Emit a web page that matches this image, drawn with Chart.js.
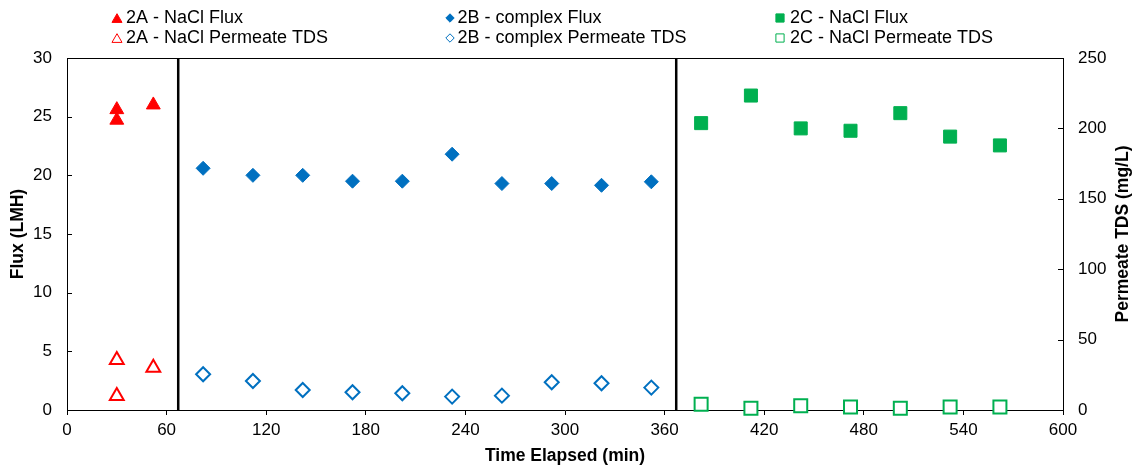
<!DOCTYPE html>
<html lang="en">
<head>
  <meta charset="UTF-8">
  <title>Flux and Permeate TDS</title>
  <script src="https://cdn.jsdelivr.net/npm/chart.js"></script>
  <style>
    html, body { margin: 0; padding: 0; background: #fff; overflow: hidden; }
    canvas { display: block; }
  </style>
</head>
<body>
  <canvas id="fluxChart" width="1135" height="469"></canvas>

  <script>
    // --- data ---
    const timeA = [30, 30, 52];
    const fluxA = [25.6, 24.7, 26.0];
    const tdsA = [35.5, 10.0, 30.0];

    const timeB = [82, 112, 142, 172, 202, 232, 262, 292, 322, 352];
    const fluxB = [20.6, 20.0, 20.0, 19.5, 19.5, 21.8, 19.3, 19.3, 19.15, 19.45];
    const tdsB = [25.4, 20.6, 14.2, 12.6, 11.9, 9.5, 10.2, 19.7, 19.0, 15.9];

    const timeC = [382, 412, 442, 472, 502, 532, 562];
    const fluxC = [24.45, 26.8, 24.0, 23.8, 25.3, 23.3, 22.55];
    const tdsC = [4.0, 1.2, 3.1, 2.1, 1.2, 2.1, 2.1];

    // phase changes (vertical lines), min
    const phaseBreaks = [67, 367];

    const RED = '#FF0000', BLUE = '#0070C0', GREEN = '#00B050';
    const FONT = "'Liberation Sans', Arial, sans-serif";

    const pts = (xs, ys) => xs.map((x, i) => ({ x, y: ys[i] }));

    // legend drawn by hand so the 3x2 grid matches
    const legendItems = [
      { text: '2A - NaCl Flux', style: 'triangle', r: 5.8, color: RED, open: false, x: 117, tx: 126, y: 18 },
      { text: '2A - NaCl Permeate TDS', style: 'triangle', r: 5.8, color: RED, open: true, x: 117, tx: 126, y: 38 },
      { text: '2B - complex Flux', style: 'rectRot', r: 4.2, color: BLUE, open: false, x: 450, tx: 457.5, y: 18 },
      { text: '2B - complex Permeate TDS', style: 'rectRot', r: 4.2, color: BLUE, open: true, x: 450, tx: 457.5, y: 38 },
      { text: '2C - NaCl Flux', style: 'rect', r: 5.8, color: GREEN, open: false, x: 780, tx: 790, y: 18 },
      { text: '2C - NaCl Permeate TDS', style: 'rect', r: 5.8, color: GREEN, open: true, x: 780, tx: 790, y: 38 }
    ];

    const decor = {
      id: 'decor',
      afterDraw(chart) {
        const { ctx, chartArea: a, scales } = chart;
        ctx.save();
        // top frame line
        ctx.strokeStyle = '#000';
        ctx.lineWidth = 1;
        ctx.beginPath();
        ctx.moveTo(a.left, a.top + 0.5);
        ctx.lineTo(a.right, a.top + 0.5);
        ctx.stroke();
        // inside tick marks on both y axes
        ctx.beginPath();
        scales.y.ticks.forEach(t => {
          const py = Math.round(scales.y.getPixelForValue(t.value)) + 0.5;
          ctx.moveTo(a.left, py); ctx.lineTo(a.left + 5, py);
        });
        scales.y2.ticks.forEach(t => {
          const py = Math.round(scales.y2.getPixelForValue(t.value)) + 0.5;
          ctx.moveTo(a.right, py); ctx.lineTo(a.right - 5, py);
        });
        ctx.stroke();

        // right axis title, reading bottom to top
        ctx.translate(1123, (a.top + a.bottom) / 2);
        ctx.rotate(-Math.PI / 2);
        ctx.font = 'bold 17.5px ' + FONT;
        ctx.fillStyle = '#000';
        ctx.textAlign = 'center';
        ctx.textBaseline = 'middle';
        ctx.fillText('Permeate TDS (mg/L)', 0, 0);
        ctx.restore();

        // legend
        ctx.save();
        ctx.font = '18px ' + FONT;
        ctx.textBaseline = 'middle';
        ctx.textAlign = 'left';
        legendItems.forEach(it => {
          ctx.fillStyle = it.open ? '#fff' : it.color;
          ctx.strokeStyle = it.color;
          Chart.helpers.drawPoint(ctx, {
            pointStyle: it.style, radius: it.r, rotation: 0,
            borderWidth: it.open ? 2 : 1
          }, it.x, it.y + (it.style === 'triangle' ? 1.5 : 0));
          ctx.fillStyle = '#000';
          ctx.fillText(it.text, it.tx, it.y);
        });
        ctx.restore();
      }
    };

    const vline = x => ({
      type: 'line',
      data: [{ x, y: 0 }, { x, y: 30 }],
      borderColor: '#000',
      borderWidth: 2.5,
      pointRadius: 0,
      yAxisID: 'y'
    });

    new Chart(document.getElementById('fluxChart'), {
      type: 'scatter',
      data: {
        datasets: [
          { label: '2A - NaCl Flux', data: pts(timeA, fluxA), yAxisID: 'y',
            pointStyle: 'triangle', pointRadius: 8, backgroundColor: RED, borderColor: RED, borderWidth: 1 },
          { label: '2A - NaCl Permeate TDS', data: pts(timeA, tdsA), yAxisID: 'y2',
            pointStyle: 'triangle', pointRadius: 8, backgroundColor: '#fff', borderColor: RED, borderWidth: 2 },
          { label: '2B - complex Flux', data: pts(timeB, fluxB), yAxisID: 'y',
            pointStyle: 'rectRot', pointRadius: 7, backgroundColor: BLUE, borderColor: BLUE, borderWidth: 1 },
          { label: '2B - complex Permeate TDS', data: pts(timeB, tdsB), yAxisID: 'y2',
            pointStyle: 'rectRot', pointRadius: 7, backgroundColor: '#fff', borderColor: BLUE, borderWidth: 2 },
          { label: '2C - NaCl Flux', data: pts(timeC, fluxC), yAxisID: 'y',
            pointStyle: 'rect', pointRadius: 9.2, backgroundColor: GREEN, borderColor: GREEN, borderWidth: 1 },
          { label: '2C - NaCl Permeate TDS', data: pts(timeC, tdsC), yAxisID: 'y2',
            pointStyle: 'rect', pointRadius: 9.2, backgroundColor: '#fff', borderColor: GREEN, borderWidth: 2 },
          ...phaseBreaks.map(vline)
        ]
      },
      options: {
        responsive: false,
        animation: false,
        events: [],
        clip: false,
        layout: { padding: { top: 58, left: 0, right: 0, bottom: 0 } },
        plugins: { legend: { display: false }, tooltip: { enabled: false } },
        scales: {
          x: {
            type: 'linear', min: 0, max: 600,
            afterFit(s) { s.height = 59; },
            ticks: { stepSize: 60, color: '#000', padding: 5, font: { family: FONT, size: 17 } },
            grid: { drawOnChartArea: false, drawTicks: true, tickLength: 5, color: '#000' },
            border: { color: '#000', width: 1 },
            title: { display: true, text: 'Time Elapsed (min)', color: '#000',
              font: { family: FONT, size: 17.5, weight: 'bold' }, padding: { top: 0, bottom: 2 } }
          },
          y: {
            position: 'left', min: 0, max: 30,
            afterFit(s) { s.width = 67; },
            ticks: { stepSize: 5, color: '#000', padding: 15, font: { family: FONT, size: 17 } },
            grid: { display: false, drawTicks: false },
            border: { color: '#000', width: 1 },
            title: { display: true, text: 'Flux (LMH)', color: '#000',
              font: { family: FONT, size: 17.5, weight: 'bold' }, padding: { top: 8, bottom: 0 } }
          },
          y2: {
            position: 'right', min: 0, max: 250,
            afterFit(s) { s.width = 72; },
            ticks: { stepSize: 50, color: '#000', padding: 15, font: { family: FONT, size: 17 } },
            grid: { display: false, drawTicks: false },
            border: { color: '#000', width: 1 }
          }
        }
      },
      plugins: [decor]
    });
  </script>
</body>
</html>
